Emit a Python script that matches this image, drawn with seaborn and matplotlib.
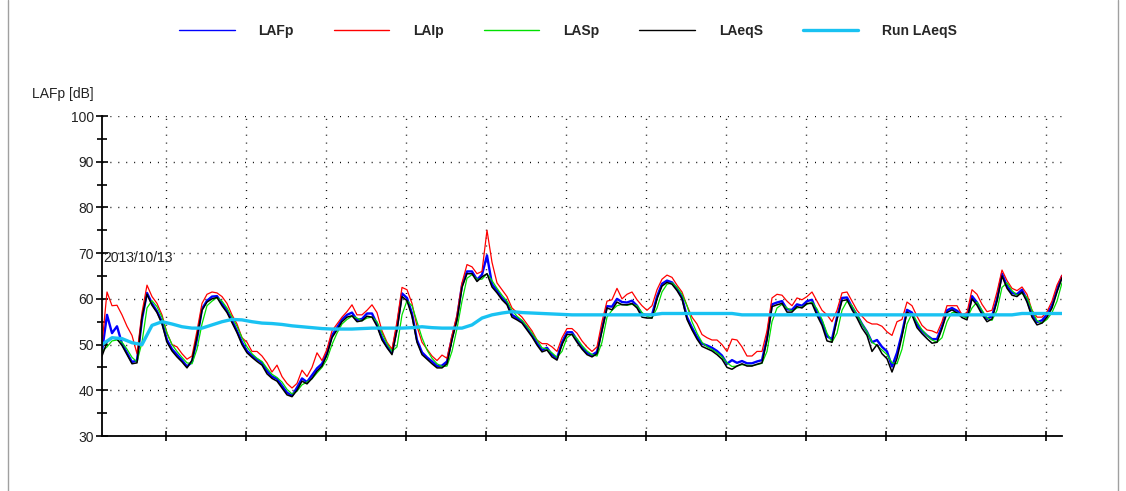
import numpy as np
import pandas as pd
import matplotlib
matplotlib.use("Agg")
import matplotlib.pyplot as plt
from matplotlib.lines import Line2D
from matplotlib.ticker import MultipleLocator, FixedLocator, NullFormatter
import seaborn as sns

# Sound level log, 2013/10/13 (dB, A-weighted); one sample every 0.625 min
session_minutes = 120.0
date_label = "2013/10/13"
series_names = ["LAFp", "LAIp", "LASp", "LAeqS", "Run LAeqS"]

lafp = [
    48.5, 56.5, 52.5, 54.0, 50.2, 48.2, 46.2, 46.5, 55.5, 61.3,
    59.0, 57.3, 55.0, 51.0, 49.0, 47.8, 46.6, 45.2, 46.2, 51.2,
    57.8, 59.6, 60.5, 60.6, 59.0, 57.4, 55.3, 53.0, 50.5, 48.6,
    47.6, 46.8, 46.0, 44.2, 43.0, 42.5, 41.0, 39.5, 38.8, 40.6,
    42.6, 41.8, 43.3, 44.8, 45.8, 48.2, 52.0, 53.7, 55.5, 56.5,
    57.0, 55.4, 55.6, 56.8, 56.8, 54.5, 51.5, 49.6, 48.2, 53.8,
    61.2, 60.2, 56.8, 51.0, 48.3, 47.2, 46.3, 45.3, 45.4, 46.3,
    51.5, 55.8, 63.0, 66.0, 66.0, 64.2, 65.3, 69.5, 63.2, 61.8,
    60.2, 59.1, 56.5, 55.8, 55.1, 53.6, 52.1, 50.3, 48.8, 49.3,
    47.8, 47.0, 50.5, 52.7, 52.7, 51.0, 49.4, 48.2, 47.7, 48.4,
    53.5, 58.4, 58.3, 60.0, 59.3, 59.2, 59.6, 58.5, 56.6, 56.5,
    56.5, 60.5, 63.3, 64.0, 63.6, 62.2, 60.4, 56.0, 53.7, 51.7,
    50.2, 49.8, 49.3, 48.6, 47.6, 45.8, 46.6, 46.0, 46.4, 45.9,
    45.9, 46.3, 46.6, 51.5, 58.8, 59.2, 59.5, 57.7, 57.6, 58.8,
    58.5, 59.5, 59.8, 57.0, 55.0, 51.8, 51.2, 56.0, 60.2, 60.3,
    58.2, 56.5, 54.5, 52.8, 50.5, 51.0, 49.5, 48.5, 45.2, 48.2,
    52.5, 57.6, 57.0, 54.3, 53.0, 52.0, 51.2, 51.2, 54.0, 57.5,
    58.0, 57.4, 56.5, 56.0, 60.6, 59.2, 57.2, 55.6, 56.2, 60.0,
    65.5, 62.8, 61.3, 61.0, 62.0, 59.8, 56.6, 54.9, 55.3, 56.6,
    58.6, 62.0, 65.0,
]

laip = [
    50.0, 61.5, 58.5, 58.6, 56.5, 54.0, 52.0, 48.0, 57.0, 63.0,
    60.5, 59.0, 56.5, 52.5, 50.0, 49.5, 48.0, 46.8, 47.5, 53.0,
    59.0, 61.0, 61.5, 61.3, 60.5, 59.0, 56.5, 54.5, 51.5, 50.5,
    48.5, 48.5, 47.5, 46.0, 44.0, 45.5, 43.0, 41.5, 40.5, 41.5,
    44.4, 43.0, 45.0, 48.2, 46.5, 49.0, 53.0, 54.5, 56.0, 57.2,
    58.7, 56.5, 56.5, 57.5, 58.7, 57.0, 53.0, 50.5, 49.0, 55.0,
    62.5, 62.0, 59.0, 54.0, 50.5, 49.0, 47.5, 46.5, 47.7, 47.0,
    52.0, 56.5, 63.5, 67.5, 67.0, 65.5, 66.0, 75.0, 68.0, 63.5,
    62.0, 60.5, 58.0, 57.0, 56.0, 54.5, 53.0, 51.0, 50.2, 50.2,
    49.5, 48.5, 51.5, 53.5, 53.5, 52.5, 50.8, 49.5, 48.5, 49.5,
    55.0, 59.5, 59.8, 62.3, 60.0, 61.0, 61.5, 59.8, 58.5, 57.5,
    58.5, 62.0, 64.3, 65.2, 64.7, 63.0, 61.5, 58.5, 56.0, 54.5,
    52.2, 51.5, 51.0, 51.0, 50.0, 48.5, 51.2, 51.0, 49.5, 47.5,
    47.5, 48.5, 48.5, 53.0, 60.2, 61.0, 60.8, 59.5, 58.5, 60.2,
    59.8, 60.5, 61.5, 59.5, 57.5, 56.5, 55.0, 57.5, 61.3, 61.5,
    59.5, 57.5, 56.2, 55.0, 54.5, 54.5, 54.0, 52.8, 52.0, 55.0,
    55.5, 59.3, 58.5, 56.2, 54.2, 53.2, 53.0, 52.5, 55.0, 58.5,
    58.5, 58.5, 56.5, 57.0, 62.0, 61.0, 58.8, 57.2, 57.5, 61.5,
    66.3, 64.0, 62.3, 61.8, 62.6, 61.0, 57.5, 56.0, 56.0, 57.2,
    59.5, 63.0, 65.2,
]

lasp = [
    48.5, 49.5, 50.8, 51.0, 50.5, 49.0, 47.2, 46.2, 50.5, 58.0,
    59.6, 58.3, 56.0, 52.5, 50.0, 48.5, 47.2, 46.0, 45.8, 49.0,
    54.5, 58.5, 59.5, 60.3, 59.5, 58.0, 56.0, 54.0, 51.5, 49.5,
    48.0, 47.0, 46.3, 44.8, 43.5, 42.8, 41.8, 40.2, 39.2, 39.8,
    41.2, 41.8, 42.5, 43.8, 45.0, 46.8, 50.0, 52.5, 54.5, 55.5,
    56.2, 55.8, 55.2, 55.8, 56.0, 55.0, 52.5, 50.2, 48.5, 49.5,
    56.5, 59.6, 58.5, 55.0, 51.5, 48.8, 47.0, 45.8, 45.2, 45.3,
    48.5, 53.5, 59.5, 64.5, 65.3, 64.3, 64.3, 65.5, 64.0, 62.3,
    60.8, 59.5, 57.5, 56.2, 55.3, 54.0, 52.5, 51.0, 49.3, 49.0,
    48.2, 47.2, 48.5, 51.5, 52.3, 51.3, 49.8, 48.6, 47.8, 47.5,
    50.5, 56.0, 57.5, 58.5, 58.8, 58.6, 58.8, 58.5, 57.0, 56.2,
    55.8, 58.0, 61.5, 63.2, 63.5, 62.5, 61.0, 58.5, 55.0, 52.5,
    50.5, 49.5, 48.9, 48.2, 47.3, 46.0, 45.2, 45.3, 45.6, 45.5,
    45.4, 45.6, 45.9, 48.5, 55.0, 58.0, 58.8, 58.0, 57.3, 58.0,
    58.2, 58.8, 59.3, 57.8, 55.5, 52.5, 50.5, 52.5, 57.5, 59.5,
    58.5, 56.5, 54.5, 52.8, 50.5, 49.8, 48.8, 47.8, 46.0, 45.8,
    49.0, 54.5, 56.8, 55.0, 53.2, 52.0, 51.0, 50.5, 51.5, 55.0,
    57.0, 57.0, 56.3, 55.8, 58.0, 59.3, 57.5, 55.8, 55.3, 57.5,
    62.5, 63.5, 61.8, 60.8, 61.2, 60.3, 57.5, 55.2, 54.7, 55.5,
    57.0, 59.5, 63.5,
]

laeqs = [
    47.5, 50.5, 51.5, 51.2, 49.8, 47.8, 45.8, 46.0, 56.0, 61.0,
    58.6, 57.0, 54.5, 50.5, 48.6, 47.3, 46.2, 44.9, 46.6, 51.7,
    57.5, 59.3, 60.0, 60.3, 58.5, 57.0, 54.8, 52.6, 50.0, 48.2,
    47.2, 46.3, 45.5, 43.6, 42.6, 42.0, 40.5, 39.0, 38.6, 40.0,
    42.0, 41.4, 42.6, 44.2, 45.3, 47.8, 51.5, 53.2, 55.0, 56.0,
    56.3, 55.0, 55.2, 56.2, 56.0, 54.0, 51.0, 49.3, 47.8, 53.2,
    60.5, 59.6, 56.2, 50.5, 47.8, 46.8, 45.8, 44.9, 44.9, 45.8,
    51.0, 55.4, 62.5, 65.5, 65.5, 63.8, 64.8, 65.5, 62.6, 61.3,
    59.8, 58.7, 56.0, 55.4, 54.7, 53.2, 51.7, 49.9, 48.4, 48.8,
    47.3, 46.6, 50.0, 52.2, 52.2, 50.5, 49.0, 47.8, 47.3, 48.0,
    53.0, 58.0, 57.6, 59.3, 58.7, 58.7, 59.0, 58.0, 56.0, 55.8,
    55.8, 60.0, 62.8, 63.6, 63.2, 61.8, 60.0, 55.5, 53.2, 51.2,
    49.6, 49.1, 48.6, 47.8, 46.8, 45.0, 44.6, 45.3, 45.8, 45.3,
    45.3, 45.7, 46.0, 51.0, 58.3, 58.7, 59.0, 57.1, 57.1, 58.3,
    58.0, 59.0, 59.0, 56.4, 54.2, 50.8, 50.5, 55.5, 59.6, 59.8,
    57.6, 55.8, 53.6, 52.0, 48.5, 50.0, 48.0, 46.9, 44.0, 47.0,
    51.8, 57.1, 56.5, 53.7, 52.4, 51.3, 50.3, 50.5, 53.5, 57.0,
    57.6, 56.9, 55.9, 55.4, 60.0, 58.6, 56.6, 55.0, 55.6, 59.5,
    65.0, 62.3, 60.8, 60.5, 61.5, 59.3, 56.0, 54.3, 54.7, 56.0,
    58.0, 61.5, 64.6,
]

# Running Leq, one value every 1.25 min
run_laeqs = [
    50.0, 51.5, 51.3, 50.4, 50.0, 54.2, 55.0, 54.5, 53.9, 53.6,
    53.6, 54.3, 55.0, 55.5, 55.4, 55.0, 54.7, 54.6, 54.4, 54.1,
    53.9, 53.7, 53.5, 53.4, 53.4, 53.4, 53.5, 53.6, 53.6, 53.6,
    53.6, 53.7, 53.9, 53.7, 53.6, 53.6, 53.6, 54.3, 55.8, 56.5,
    56.9, 57.2, 57.0, 56.9, 56.8, 56.7, 56.6, 56.5, 56.5, 56.5,
    56.5, 56.5, 56.5, 56.5, 56.5, 56.5, 56.8, 56.8, 56.8, 56.8,
    56.8, 56.8, 56.8, 56.8, 56.5, 56.5, 56.5, 56.5, 56.5, 56.5,
    56.5, 56.5, 56.5, 56.5, 56.5, 56.5, 56.5, 56.5, 56.5, 56.5,
    56.5, 56.5, 56.5, 56.5, 56.5, 56.5, 56.5, 56.5, 56.5, 56.5,
    56.5, 56.5, 56.8, 56.8, 56.8, 56.8, 56.8,
]

series_values = [lafp, laip, lasp, laeqs, run_laeqs]
series_colors = ["#0000FF", "#FF0000", "#00E000", "#000000", "#19C2F2"]
series_widths = [1.7, 0.9, 0.9, 1.1, 2.4]

sns.set_theme(style="white")
plt.rcParams["font.family"] = ["Liberation Sans", "DejaVu Sans"]

fig = plt.figure(figsize=(11.26, 4.91), dpi=100)
ax = fig.add_axes([102 / 1126, 55 / 491, 960 / 1126, 320 / 491])

frames = []
for name, vals in zip(series_names, series_values):
    minutes = np.linspace(0.0, session_minutes, len(vals))
    frames.append(pd.DataFrame({"minute": minutes, "level": vals, "series": name}))
data = pd.concat(frames, ignore_index=True)

for name, color, lw in zip(series_names, series_colors, series_widths):
    sub = data[data["series"] == name]
    sns.lineplot(data=sub, x="minute", y="level", color=color, linewidth=lw,
                 ax=ax, legend=False, estimator=None, sort=False)

ax.set_xlim(0, session_minutes)
ax.set_ylim(30, 100)
ax.set_xlabel("")
ax.set_ylabel("")

ax.yaxis.set_major_locator(MultipleLocator(10))
ax.yaxis.set_minor_locator(MultipleLocator(5))
ax.xaxis.set_major_locator(FixedLocator(np.arange(8, 120, 10)))
ax.xaxis.set_major_formatter(NullFormatter())

ax.grid(True, which="major", axis="both", color="#000000",
        linestyle=(0, (0.7, 5.0)), linewidth=1.0)
ax.tick_params(axis="y", which="major", direction="inout", length=8, width=1.2,
               colors="#000000", labelsize=10, pad=2, left=True)
ax.tick_params(axis="y", which="minor", direction="inout", length=7, width=1.2,
               colors="#000000", left=True)
ax.tick_params(axis="x", which="major", direction="inout", length=7, width=1.2,
               colors="#000000", bottom=True)
for lab in ax.get_yticklabels():
    lab.set_color("#222222")

for side in ("top", "right"):
    ax.spines[side].set_visible(False)
for side in ("left", "bottom"):
    ax.spines[side].set_color("#000000")
    ax.spines[side].set_linewidth(1.3)

ax.text(0.15, 68.9, date_label, fontsize=10, color="#222222",
        va="center", ha="left")
fig.text(32 / 1126, 1 - 94 / 491, "LAFp [dB]", fontsize=10, color="#222222",
         va="center", ha="left")

handles = [Line2D([], [], color=c, linewidth=(2.4 if i == 4 else 1.0))
           for i, c in enumerate(series_colors)]
fig.legend(handles, series_names, loc="center", bbox_to_anchor=(568 / 1126, 1 - 31 / 491),
           ncol=5, frameon=False, handlelength=4.0, handletextpad=1.7,
           columnspacing=2.9, prop={"weight": "bold", "size": 10,
                                    "family": ["Liberation Sans Narrow", "Liberation Sans", "DejaVu Sans"]})

# outer panel border
fig.add_artist(Line2D([8 / 1126, 8 / 1126], [0, 1], transform=fig.transFigure,
                      color="#A0A0A0", linewidth=1.0))
fig.add_artist(Line2D([1118 / 1126, 1118 / 1126], [0, 1], transform=fig.transFigure,
                      color="#A0A0A0", linewidth=1.0))

fig.savefig("out.png", dpi=100, facecolor="white")
